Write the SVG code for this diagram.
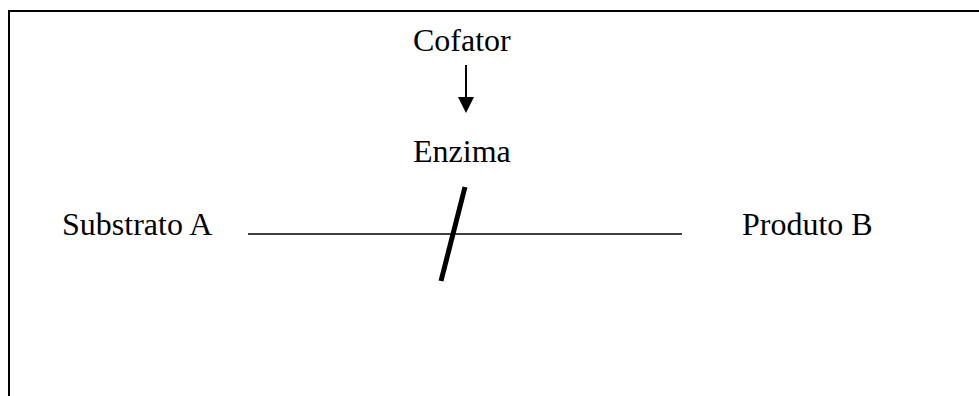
<svg xmlns="http://www.w3.org/2000/svg" width="979" height="396" viewBox="0 0 979 396">
<style>
text{font-family:"Liberation Serif","Times New Roman",serif;font-size:32px;fill:#000}
.ln{stroke:#000;fill:none}
</style>
<defs>
<marker id="ah" markerWidth="8" markerHeight="8" refX="7.5" refY="4" orient="auto" markerUnits="userSpaceOnUse" viewBox="0 0 8 8">
<path d="M0,0 L8,4 L0,8 z" fill="#000"/>
</marker>
</defs>
<rect width="979" height="396" fill="#fff"/>
<path class="ln" stroke-width="2" d="M9,396 V11 H979"/>
<g id="cofator"><text x="413" y="51">Cofator</text></g>
<g id="enzima"><text x="413" y="162">Enzima</text></g>
<g id="substratoA"><text x="62" y="235">Substrato A</text></g>
<g id="produtoB"><text x="742" y="235">Produto B</text></g>
<g id="connectors">
<path class="ln" stroke-width="2" d="M466,65 V97"/>
<path d="M458,97 L474,97 L466,113 z" fill="#000"/>
<path class="ln" stroke-width="1.6" d="M248,234 H682"/>
<path class="ln" stroke-width="5" d="M465,187 L441,281"/>
</g>
</svg>
